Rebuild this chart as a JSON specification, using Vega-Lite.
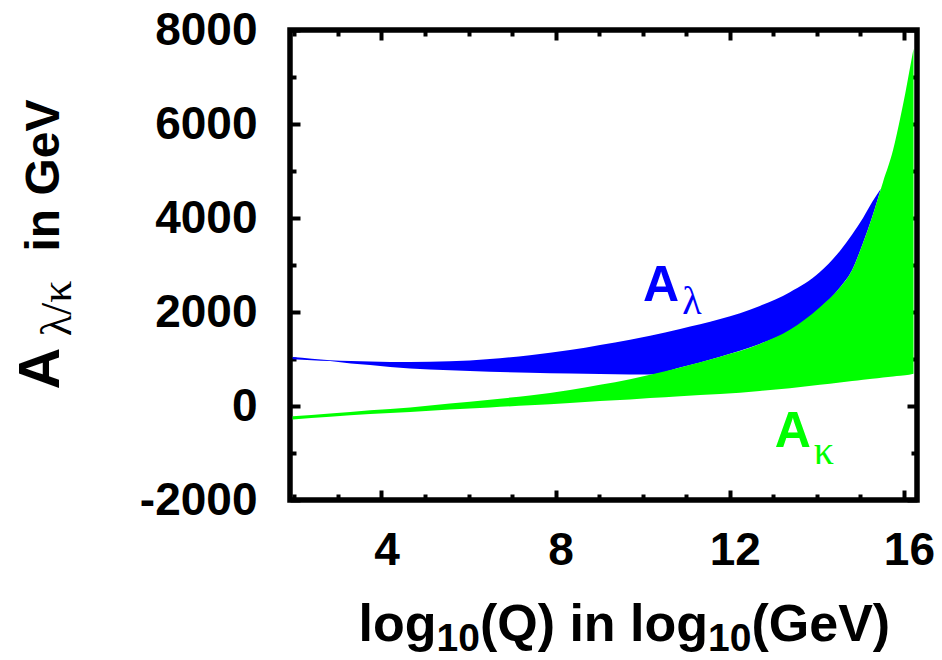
{
  "$schema": "https://vega.github.io/schema/vega-lite/v6.json",
  "width": 627,
  "height": 470,
  "autosize": {"type": "none"},
  "padding": {"left": 290, "top": 30, "right": 25, "bottom": 160},
  "background": "white",
  "config": {
    "view": {"stroke": "black", "strokeWidth": 5.5},
    "font": "Liberation Sans",
    "axis": {
      "grid": false,
      "domain": false,
      "tickColor": "black",
      "tickWidth": 4,
      "labelFont": "Liberation Sans",
      "labelFontWeight": "bold",
      "labelFontSize": 46,
      "labelColor": "black",
      "titleFont": "Liberation Sans",
      "titleFontWeight": "bold",
      "titleFontSize": 52,
      "titleColor": "black"
    }
  },
  "datasets": {
    "blue": [
      {"x": 1.96, "lo": 995, "hi": 1040},
      {"x": 2.4, "lo": 975, "hi": 1005},
      {"x": 2.82, "lo": 955, "hi": 975},
      {"x": 3.3, "lo": 905, "hi": 955},
      {"x": 3.74, "lo": 870, "hi": 945},
      {"x": 4.2, "lo": 830, "hi": 935},
      {"x": 4.66, "lo": 800, "hi": 935},
      {"x": 5.57, "lo": 760, "hi": 950},
      {"x": 6.49, "lo": 730, "hi": 1000},
      {"x": 7.41, "lo": 705, "hi": 1080},
      {"x": 8.33, "lo": 690, "hi": 1190},
      {"x": 9.02, "lo": 680, "hi": 1300},
      {"x": 9.71, "lo": 672, "hi": 1410},
      {"x": 10.17, "lo": 670, "hi": 1495},
      {"x": 10.86, "lo": 820, "hi": 1640},
      {"x": 11.78, "lo": 1050, "hi": 1850},
      {"x": 12.69, "lo": 1320, "hi": 2130},
      {"x": 13.38, "lo": 1600, "hi": 2420},
      {"x": 14.07, "lo": 2080, "hi": 2850},
      {"x": 14.53, "lo": 2520, "hi": 3300},
      {"x": 14.81, "lo": 2894, "hi": 3650},
      {"x": 15.06, "lo": 3468, "hi": 4000},
      {"x": 15.27, "lo": 4021, "hi": 4340},
      {"x": 15.47, "lo": 4620, "hi": 4620}
    ],
    "green": [
      {"x": 1.96, "lo": -285, "hi": -220},
      {"x": 2.82, "lo": -230, "hi": -160},
      {"x": 3.74, "lo": -170, "hi": -90},
      {"x": 4.66, "lo": -125, "hi": -30},
      {"x": 5.57, "lo": -75, "hi": 55},
      {"x": 6.49, "lo": -30, "hi": 135},
      {"x": 7.41, "lo": 18, "hi": 225},
      {"x": 8.33, "lo": 65, "hi": 340},
      {"x": 9.02, "lo": 106, "hi": 450},
      {"x": 9.71, "lo": 140, "hi": 570},
      {"x": 10.17, "lo": 170, "hi": 665},
      {"x": 10.86, "lo": 210, "hi": 820},
      {"x": 11.78, "lo": 255, "hi": 1050},
      {"x": 12.69, "lo": 320, "hi": 1320},
      {"x": 13.38, "lo": 380, "hi": 1620},
      {"x": 14.07, "lo": 450, "hi": 2100},
      {"x": 14.53, "lo": 500, "hi": 2520},
      {"x": 14.81, "lo": 530, "hi": 2894},
      {"x": 15.06, "lo": 558, "hi": 3468},
      {"x": 15.27, "lo": 580, "hi": 4021},
      {"x": 15.52, "lo": 607, "hi": 4766},
      {"x": 15.75, "lo": 630, "hi": 5447},
      {"x": 15.92, "lo": 645, "hi": 6150},
      {"x": 16.03, "lo": 655, "hi": 6650},
      {"x": 16.12, "lo": 665, "hi": 7100},
      {"x": 16.22, "lo": 685, "hi": 7600}
    ],
    "mainLabels": [
      {"t": "A", "x": 10.42, "y": 2553, "s": "lambda"},
      {"t": "A", "x": 13.45, "y": -553, "s": "kappa"}
    ],
    "subLabels": [
      {"t": "λ", "x": 11.13, "y": 2213, "s": "lambda"},
      {"t": "κ", "x": 14.16, "y": -979, "s": "kappa"}
    ]
  },
  "resolve": {"axis": {"x": "independent", "y": "independent"}},
  "layer": [
    {
      "data": {"name": "blue"},
      "mark": {"type": "area", "color": "#0000ff", "interpolate": "monotone"},
      "encoding": {
        "x": {
          "field": "x", "type": "quantitative",
          "scale": {"domain": [1.9, 16.3], "nice": false, "zero": false},
          "axis": {
            "orient": "bottom", "values": [4, 8, 12, 16], "tickSize": -10,
            "labelPadding": 38, "labelBaseline": "top", "labelOffset": 5,
            "title": "log", "titleX": 68, "titleY": 140, "titleAlign": "left", "titleBaseline": "alphabetic"
          }
        },
        "y": {
          "field": "hi", "type": "quantitative",
          "scale": {"domain": [-2000, 8000], "nice": false, "zero": false},
          "axis": {
            "orient": "left", "values": [-2000, 0, 2000, 4000, 6000, 8000], "tickSize": -10,
            "labelPadding": 43, "labelBaseline": "middle", "labelExpr": "'' + datum.value",
            "title": "A", "titleFontSize": 58, "titleAngle": -90, "titleX": -232, "titleY": 338,
            "titleAlign": "center", "titleBaseline": "alphabetic"
          }
        },
        "y2": {"field": "lo"}
      }
    },
    {
      "data": {"name": "green"},
      "mark": {"type": "area", "color": "#00ff00", "interpolate": "monotone"},
      "encoding": {
        "x": {
          "field": "x", "type": "quantitative",
          "axis": {
            "orient": "bottom", "values": [2, 3, 5, 6, 7, 9, 10, 11, 13, 14, 15], "tickSize": -6, "labels": false,
            "title": "10", "titleFontSize": 39, "titleX": 146, "titleY": 150, "titleAlign": "left", "titleBaseline": "alphabetic"
          }
        },
        "y": {
          "field": "hi", "type": "quantitative",
          "axis": {
            "orient": "left", "values": [-1000, 1000, 3000, 5000, 7000], "tickSize": -6, "labels": false,
            "title": "in GeV", "titleFontSize": 48, "titleAngle": -90, "titleX": -232, "titleY": 145,
            "titleAlign": "center", "titleBaseline": "alphabetic"
          }
        },
        "y2": {"field": "lo"}
      }
    },
    {
      "data": {"name": "mainLabels"},
      "mark": {"type": "text", "font": "Liberation Sans", "fontWeight": "bold", "fontSize": 50, "align": "center", "baseline": "middle"},
      "encoding": {
        "x": {"field": "x", "type": "quantitative",
          "axis": {"orient": "top", "values": [4, 8, 12, 16], "tickSize": -10, "labels": false, "title": null}},
        "y": {"field": "y", "type": "quantitative",
          "axis": {"orient": "right", "values": [-2000, 0, 2000, 4000, 6000, 8000], "tickSize": -10, "labels": false, "title": null}},
        "text": {"field": "t"},
        "color": {"field": "s", "type": "nominal", "scale": {"domain": ["lambda", "kappa"], "range": ["#0000ff", "#00ff00"]}, "legend": null}
      }
    },
    {
      "data": {"name": "subLabels"},
      "mark": {"type": "text", "font": "Liberation Serif", "fontSize": 40, "align": "center", "baseline": "middle"},
      "encoding": {
        "x": {"field": "x", "type": "quantitative",
          "axis": {"orient": "top", "values": [2, 3, 5, 6, 7, 9, 10, 11, 13, 14, 15], "tickSize": -6, "labels": false, "title": null}},
        "y": {"field": "y", "type": "quantitative",
          "axis": {"orient": "right", "values": [-1000, 1000, 3000, 5000, 7000], "tickSize": -6, "labels": false, "title": null}},
        "text": {"field": "t"},
        "color": {"field": "s", "type": "nominal", "scale": {"domain": ["lambda", "kappa"], "range": ["#0000ff", "#00ff00"]}, "legend": null}
      }
    },
    {
      "data": {"name": "subLabels"},
      "mark": {"type": "point", "opacity": 0},
      "encoding": {
        "x": {"field": "x", "type": "quantitative",
          "axis": {
            "orient": "bottom", "ticks": false, "labels": false, "values": [],
            "title": "(Q) in log", "titleX": 189.4, "titleY": 140, "titleAlign": "left", "titleBaseline": "alphabetic"
          }},
        "y": {"field": "y", "type": "quantitative",
          "axis": {
            "orient": "left", "ticks": false, "labels": false, "values": [],
            "title": "λ/κ", "titleFont": "Liberation Serif", "titleFontWeight": "normal", "titleFontSize": 44,
            "titleAngle": -90, "titleX": -220, "titleY": 278, "titleAlign": "center", "titleBaseline": "alphabetic"
          }}
      }
    },
    {
      "data": {"name": "subLabels"},
      "mark": {"type": "point", "opacity": 0},
      "encoding": {
        "x": {"field": "x", "type": "quantitative",
          "axis": {
            "orient": "bottom", "ticks": false, "labels": false, "values": [],
            "title": "10", "titleFontSize": 39, "titleX": 417.6, "titleY": 150, "titleAlign": "left", "titleBaseline": "alphabetic"
          }},
        "y": {"field": "y", "type": "quantitative", "axis": null}
      }
    },
    {
      "data": {"name": "subLabels"},
      "mark": {"type": "point", "opacity": 0},
      "encoding": {
        "x": {"field": "x", "type": "quantitative",
          "axis": {
            "orient": "bottom", "ticks": false, "labels": false, "values": [],
            "title": "(GeV)", "titleX": 461, "titleY": 140, "titleAlign": "left", "titleBaseline": "alphabetic"
          }},
        "y": {"field": "y", "type": "quantitative", "axis": null}
      }
    }
  ]
}
